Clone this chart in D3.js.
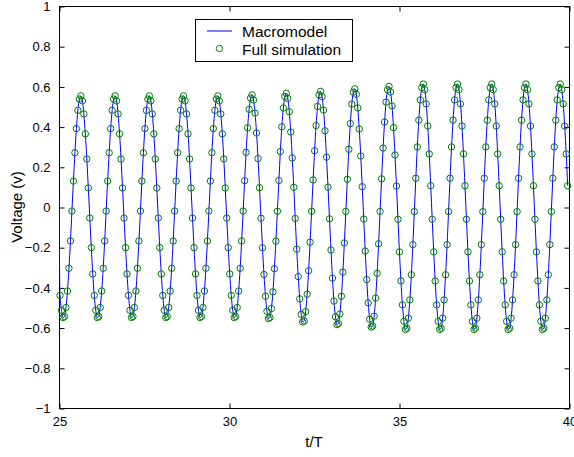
<!DOCTYPE html>
<html>
<head>
<meta charset="utf-8">
<script src="https://cdn.jsdelivr.net/npm/d3@7"></script>
<style>
  html, body { margin: 0; padding: 0; background: #fff; }
  svg { display: block; font-family: "Liberation Sans", Arial, Helvetica, sans-serif; }
</style>
</head>
<body>
<svg id="chart" width="574" height="457"></svg>
<script>
// ---- data ----
const xTicks = [25, 30, 35, 40];
const yTicks = [-1, -0.8, -0.6, -0.4, -0.2, 0, 0.2, 0.4, 0.6, 0.8, 1];
const xLabel = "t/T";
const yLabel = "Voltage (v)";
const legendLabels = ["Macromodel", "Full simulation"];

// start of macromodel trace (before first simulation sample)
const macroStartTime = [25.0];
const macroStartVolt = [0.04];

// full simulation samples (time in t/T, voltage in V)
const simTime = [
  25.030, 25.074, 25.118, 25.161, 25.205, 25.249, 25.293, 25.337, 25.380, 25.424, 25.468, 25.512, 25.555, 25.599,
  25.643, 25.687, 25.731, 25.774, 25.818, 25.862, 25.906, 25.950, 25.993, 26.037, 26.081, 26.125, 26.168, 26.212, 26.256, 26.300, 26.344, 26.387, 26.431, 26.475, 26.519, 26.563, 26.606,
  26.650, 26.694, 26.738, 26.782, 26.825, 26.869, 26.913, 26.957, 27.000, 27.044, 27.088, 27.132, 27.176, 27.219, 27.263, 27.307, 27.351, 27.395, 27.438, 27.482, 27.526, 27.570, 27.614,
  27.657, 27.701, 27.745, 27.789, 27.832, 27.876, 27.920, 27.964, 28.008, 28.051, 28.095, 28.139, 28.183, 28.227, 28.270, 28.314, 28.358, 28.402, 28.445, 28.489, 28.533, 28.577, 28.621,
  28.664, 28.708, 28.752, 28.796, 28.840, 28.883, 28.927, 28.971, 29.015, 29.058, 29.102, 29.146, 29.190, 29.234, 29.277, 29.321, 29.365, 29.409, 29.453, 29.496, 29.540, 29.584, 29.628,
  29.671, 29.715, 29.759, 29.803, 29.847, 29.890, 29.934, 29.978, 30.022, 30.066, 30.109, 30.153, 30.197, 30.241, 30.285, 30.328, 30.372, 30.416, 30.460, 30.503, 30.547, 30.591, 30.635,
  30.679, 30.722, 30.766, 30.810, 30.854, 30.898, 30.941, 30.985, 31.029, 31.073, 31.116, 31.160, 31.204, 31.248, 31.292, 31.335, 31.379, 31.423, 31.467, 31.511, 31.554, 31.598, 31.642,
  31.686, 31.729, 31.773, 31.817, 31.861, 31.905, 31.948, 31.992, 32.036, 32.080, 32.124, 32.167, 32.211, 32.255, 32.299, 32.342, 32.386, 32.430, 32.474, 32.518, 32.561, 32.605, 32.649,
  32.693, 32.737, 32.780, 32.824, 32.868, 32.912, 32.956, 32.999, 33.043, 33.087, 33.131, 33.174, 33.218, 33.262, 33.306, 33.350, 33.393, 33.437, 33.481, 33.525, 33.569, 33.612, 33.656,
  33.700, 33.744, 33.787, 33.831, 33.875, 33.919, 33.963, 34.006, 34.050, 34.094, 34.138, 34.182, 34.225, 34.269, 34.313, 34.357, 34.400, 34.444, 34.488, 34.532, 34.576, 34.619, 34.663,
  34.707, 34.751, 34.795, 34.838, 34.882, 34.926, 34.970, 35.013, 35.057, 35.101, 35.145, 35.189, 35.232, 35.276, 35.320, 35.364, 35.408, 35.451, 35.495, 35.539, 35.583, 35.627, 35.670,
  35.714, 35.758, 35.802, 35.845, 35.889, 35.933, 35.977, 36.021, 36.064, 36.108, 36.152, 36.196, 36.240, 36.283, 36.327, 36.371, 36.415, 36.458, 36.502, 36.546, 36.590, 36.634, 36.677,
  36.721, 36.765, 36.809, 36.853, 36.896, 36.940, 36.984, 37.028, 37.071, 37.115, 37.159, 37.203, 37.247, 37.290, 37.334, 37.378, 37.422, 37.466, 37.509, 37.553, 37.597, 37.641, 37.685,
  37.728, 37.772, 37.816, 37.860, 37.903, 37.947, 37.991, 38.035, 38.079, 38.122, 38.166, 38.210, 38.254, 38.298, 38.341, 38.385, 38.429, 38.473, 38.516, 38.560, 38.604, 38.648, 38.692,
  38.735, 38.779, 38.823, 38.867, 38.911, 38.954, 38.998, 39.042, 39.086, 39.129, 39.173, 39.217, 39.261, 39.305, 39.348, 39.392, 39.436, 39.480, 39.524, 39.567, 39.611, 39.655, 39.699,
  39.742, 39.786, 39.830, 39.874, 39.918, 39.961
];
const simVolt = [
  -0.440, -0.514, -0.550, -0.545, -0.500, -0.418, -0.305, -0.169, -0.020, 0.129, 0.270, 0.390, 0.481, 0.537,
  0.553, 0.528, 0.463, 0.364, 0.239, 0.095, -0.055, -0.202, -0.333, -0.440, -0.514, -0.550, -0.545, -0.500, -0.418, -0.305, -0.169, -0.020, 0.129, 0.270, 0.390, 0.481, 0.537,
  0.553, 0.528, 0.463, 0.364, 0.239, 0.095, -0.055, -0.202, -0.333, -0.440, -0.514, -0.550, -0.545, -0.500, -0.418, -0.305, -0.169, -0.020, 0.129, 0.270, 0.390, 0.481, 0.537,
  0.553, 0.528, 0.463, 0.364, 0.239, 0.095, -0.055, -0.202, -0.333, -0.440, -0.514, -0.550, -0.545, -0.500, -0.418, -0.305, -0.169, -0.020, 0.129, 0.270, 0.390, 0.481, 0.537,
  0.553, 0.528, 0.463, 0.364, 0.239, 0.095, -0.055, -0.202, -0.333, -0.440, -0.514, -0.550, -0.545, -0.500, -0.418, -0.305, -0.169, -0.020, 0.129, 0.270, 0.390, 0.481, 0.537,
  0.553, 0.528, 0.463, 0.364, 0.239, 0.095, -0.055, -0.202, -0.333, -0.440, -0.514, -0.550, -0.545, -0.500, -0.418, -0.305, -0.169, -0.020, 0.131, 0.272, 0.394, 0.486, 0.542,
  0.558, 0.532, 0.467, 0.368, 0.241, 0.096, -0.056, -0.203, -0.336, -0.444, -0.519, -0.555, -0.550, -0.505, -0.422, -0.307, -0.170, -0.021, 0.132, 0.276, 0.399, 0.493, 0.550,
  0.566, 0.540, 0.474, 0.373, 0.244, 0.098, -0.057, -0.210, -0.346, -0.457, -0.534, -0.572, -0.567, -0.520, -0.434, -0.317, -0.175, -0.021, 0.135, 0.280, 0.405, 0.500, 0.558,
  0.575, 0.549, 0.482, 0.379, 0.248, 0.099, -0.059, -0.214, -0.354, -0.468, -0.546, -0.585, -0.580, -0.532, -0.444, -0.324, -0.179, -0.022, 0.138, 0.287, 0.415, 0.512, 0.571,
  0.588, 0.561, 0.493, 0.388, 0.254, 0.101, -0.060, -0.219, -0.361, -0.477, -0.558, -0.597, -0.592, -0.543, -0.453, -0.330, -0.183, -0.022, 0.140, 0.293, 0.423, 0.522, 0.583,
  0.600, 0.572, 0.503, 0.395, 0.259, 0.104, -0.061, -0.223, -0.368, -0.487, -0.569, -0.609, -0.603, -0.553, -0.462, -0.337, -0.187, -0.023, 0.143, 0.299, 0.432, 0.533, 0.594,
  0.612, 0.584, 0.513, 0.403, 0.264, 0.106, -0.061, -0.223, -0.368, -0.487, -0.569, -0.609, -0.603, -0.553, -0.462, -0.337, -0.187, -0.023, 0.143, 0.299, 0.432, 0.533, 0.594,
  0.612, 0.584, 0.513, 0.403, 0.264, 0.106, -0.061, -0.223, -0.368, -0.487, -0.569, -0.609, -0.603, -0.553, -0.462, -0.337, -0.187, -0.023, 0.143, 0.299, 0.432, 0.533, 0.594,
  0.612, 0.584, 0.513, 0.403, 0.264, 0.106, -0.061, -0.223, -0.368, -0.487, -0.569, -0.609, -0.603, -0.553, -0.462, -0.337, -0.187, -0.023, 0.143, 0.299, 0.432, 0.533, 0.594,
  0.612, 0.584, 0.513, 0.403, 0.264, 0.106, -0.061, -0.223, -0.368, -0.487, -0.569, -0.609, -0.603, -0.553, -0.462, -0.337, -0.187, -0.023, 0.143, 0.299, 0.432, 0.533, 0.594,
  0.612, 0.584, 0.513, 0.403, 0.264, 0.106
];

// ---- layout ----
const W = 574, H = 457;
const plot = { left: 59, right: 569, top: 6, bottom: 408 };

const svg = d3.select("#chart");

const x = d3.scaleLinear().domain([25, 40]).range([plot.left, plot.right]);
const y = d3.scaleLinear().domain([-1, 1]).range([plot.bottom, plot.top]);

const fmt = v => {
  const s = d3.format("")(Math.round(v * 10) / 10);
  return s.replace("-", "\u2212");
};

svg.append("rect").attr("width", W).attr("height", H).attr("fill", "#fff");

svg.append("defs").append("clipPath").attr("id", "clip")
  .append("rect")
  .attr("x", plot.left).attr("y", plot.top)
  .attr("width", plot.right - plot.left).attr("height", plot.bottom - plot.top);

// axes (box with inward ticks on all four sides)
const tickLen = 5;
const gAxes = svg.append("g").attr("stroke", "#000").attr("stroke-width", 1).attr("fill", "none");
gAxes.append("rect")
  .attr("x", plot.left + 0.5).attr("y", plot.top + 0.5)
  .attr("width", plot.right - plot.left).attr("height", plot.bottom - plot.top);

const xAxisB = d3.axisBottom(x).tickValues(xTicks).tickSizeInner(-tickLen).tickSizeOuter(0).tickPadding(8).tickFormat(d3.format("d"));
const xAxisT = d3.axisTop(x).tickValues(xTicks).tickSizeInner(-tickLen).tickSizeOuter(0).tickFormat("");
const yAxisL = d3.axisLeft(y).tickValues(yTicks).tickSizeInner(-tickLen).tickSizeOuter(0).tickPadding(9).tickFormat(fmt);
const yAxisR = d3.axisRight(y).tickValues(yTicks).tickSizeInner(-tickLen).tickSizeOuter(0).tickFormat("");

function styleAxis(g) {
  g.select(".domain").remove();
  g.selectAll(".tick line").attr("stroke", "#000").attr("stroke-width", 1);
  g.selectAll(".tick text").attr("fill", "#000").attr("font-size", 13)
    .attr("font-family", "'Liberation Sans', Arial, Helvetica, sans-serif");
}
svg.append("g").attr("transform", `translate(0.5,${plot.bottom + 0.5})`).call(xAxisB).call(styleAxis);
svg.append("g").attr("transform", `translate(0.5,${plot.top + 0.5})`).call(xAxisT).call(styleAxis);
svg.append("g").attr("transform", `translate(${plot.left + 0.5},0.5)`).call(yAxisL).call(styleAxis);
svg.append("g").attr("transform", `translate(${plot.right + 0.5},0.5)`).call(yAxisR).call(styleAxis);

// axis labels
svg.append("text")
  .attr("x", (plot.left + plot.right) / 2).attr("y", 447)
  .attr("text-anchor", "middle").attr("font-size", 15).attr("fill", "#000")
  .text(xLabel);
svg.append("text")
  .attr("transform", `translate(22,${(plot.top + plot.bottom) / 2}) rotate(-90)`)
  .attr("text-anchor", "middle").attr("font-size", 15).attr("fill", "#000")
  .text(yLabel);

// data
const simPts = d3.zip(simTime, simVolt);
const macroPts = d3.zip(macroStartTime, macroStartVolt).concat(simPts);

const gData = svg.append("g").attr("clip-path", "url(#clip)");
gData.append("path")
  .datum(macroPts)
  .attr("fill", "none").attr("stroke", "#0000ff").attr("stroke-width", 1)
  .attr("d", d3.line().x(d => x(d[0])).y(d => y(d[1])).curve(d3.curveMonotoneX));

svg.append("g").selectAll("circle")
  .data(simPts)
  .join("circle")
  .attr("cx", d => x(d[0])).attr("cy", d => y(d[1])).attr("r", 3.2)
  .attr("fill", "none").attr("stroke", "#008000").attr("stroke-width", 1);

// legend
const lg = svg.append("g");
lg.append("rect").attr("x", 195.5).attr("y", 19.5).attr("width", 157).attr("height", 42)
  .attr("fill", "#fff").attr("stroke", "#000").attr("stroke-width", 1);
lg.append("line").attr("x1", 207).attr("x2", 232).attr("y1", 31).attr("y2", 31)
  .attr("stroke", "#0000ff").attr("stroke-width", 1);
lg.append("circle").attr("cx", 219.5).attr("cy", 48.5).attr("r", 3.2)
  .attr("fill", "none").attr("stroke", "#008000").attr("stroke-width", 1);
lg.selectAll("text.leg").data(legendLabels).join("text")
  .attr("class", "leg")
  .attr("x", 242).attr("y", (d, i) => 36.5 + i * 18)
  .attr("font-size", 15.5).attr("fill", "#000")
  .text(d => d);
</script>
</body>
</html>
